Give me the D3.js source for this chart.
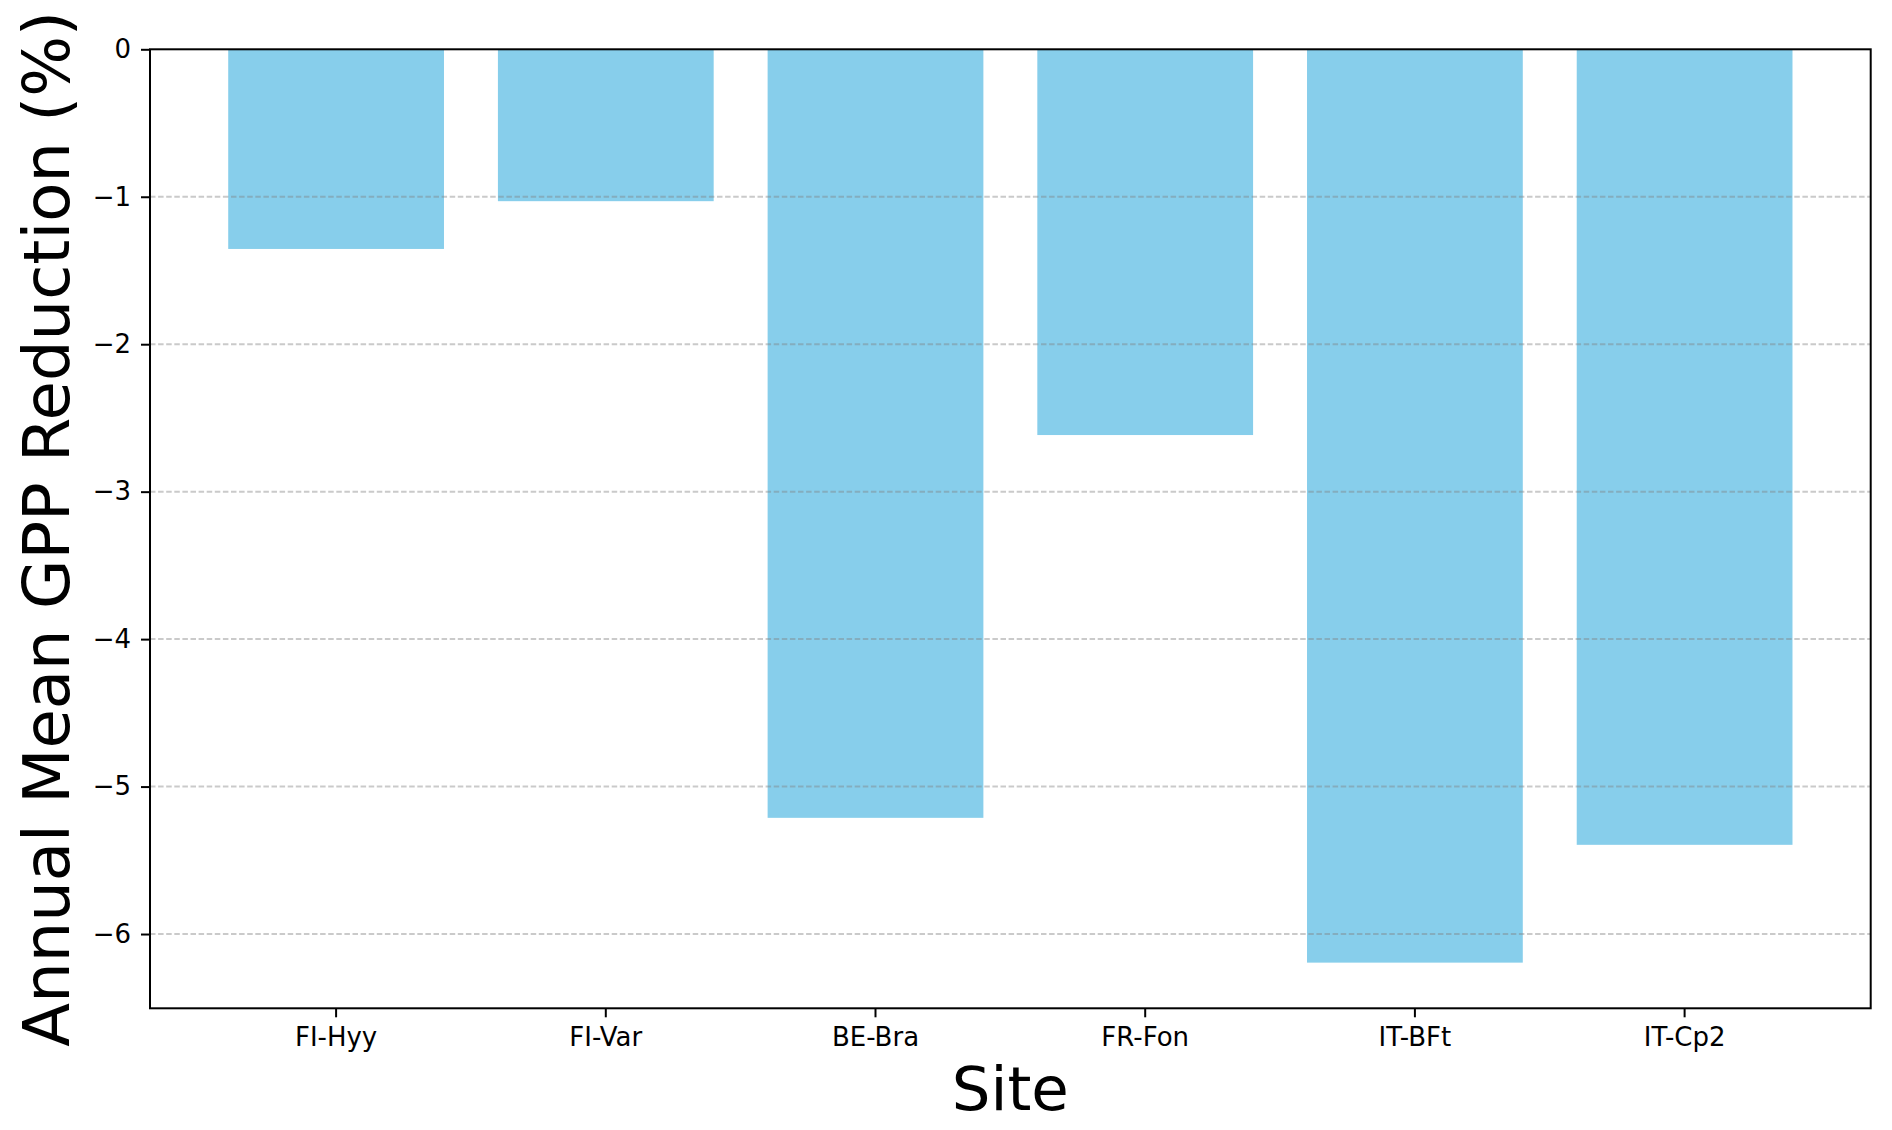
<!DOCTYPE html>
<html>
<head>
<meta charset="utf-8">
<script src="https://cdn.jsdelivr.net/npm/d3@7"></script>
<style>
  html, body { margin: 0; padding: 0; background: #fff; }
  svg { display: block; font-family: "DejaVu Sans", sans-serif; }
</style>
</head>
<body>
<svg id="chart" width="1892" height="1130"></svg>
<script>
const sites = ["FI-Hyy", "FI-Var", "BE-Bra", "FR-Fon", "IT-BFt", "IT-Cp2"];
const gppReduction = [-1.354, -1.03, -5.212, -2.616, -6.194, -5.395];
const yTicks = [0, -1, -2, -3, -4, -5, -6];
const xLabel = "Site";
const yLabel = "Annual Mean GPP Reduction (%)";

const W = 1892, H = 1130;
const plot = { left: 150, right: 1870.7, top: 49.3, bottom: 1008.3 };

const svg = d3.select("#chart");

const x = d3.scaleBand()
  .domain(sites)
  .range([plot.left, plot.right])
  .paddingInner(0.2)
  .paddingOuter(0.29);

const y = d3.scaleLinear()
  .domain([d3.min(gppReduction) * 1.05, 0])
  .range([plot.bottom, plot.top]);

// bars
svg.append("g")
  .selectAll("rect")
  .data(sites.map((s, i) => ({ site: s, v: gppReduction[i] })))
  .join("rect")
  .attr("x", d => x(d.site))
  .attr("width", x.bandwidth())
  .attr("y", y(0))
  .attr("height", d => y(d.v) - y(0))
  .attr("fill", "#87CEEB");

// grid (drawn above bars)
svg.append("g")
  .selectAll("line")
  .data(yTicks.filter(t => t !== 0))
  .join("line")
  .attr("x1", plot.left)
  .attr("x2", plot.right)
  .attr("y1", d => y(d))
  .attr("y2", d => y(d))
  .attr("stroke", "#808080")
  .attr("stroke-opacity", 0.42)
  .attr("stroke-width", 2)
  .attr("stroke-dasharray", "5.5,2.6");

// axes
const yAxis = d3.axisLeft(y).tickValues(yTicks).tickSize(9).tickPadding(10)
  .tickFormat(d3.format("d"));
const gy = svg.append("g").attr("transform", `translate(${plot.left},0)`).call(yAxis);
gy.select(".domain").remove();
gy.selectAll(".tick line").attr("stroke", "#000").attr("stroke-width", 2);
gy.selectAll(".tick text").attr("font-size", 26).attr("fill", "#000")
  .attr("font-family", "DejaVu Sans");

const xAxis = d3.axisBottom(x).tickSize(9).tickPadding(10);
const gx = svg.append("g").attr("transform", `translate(0,${plot.bottom})`).call(xAxis);
gx.select(".domain").remove();
gx.selectAll(".tick line").attr("stroke", "#000").attr("stroke-width", 2);
gx.selectAll(".tick text").attr("font-size", 26).attr("fill", "#000")
  .attr("font-family", "DejaVu Sans");

// frame
svg.append("rect")
  .attr("x", plot.left).attr("y", plot.top)
  .attr("width", plot.right - plot.left)
  .attr("height", plot.bottom - plot.top)
  .attr("fill", "none")
  .attr("stroke", "#000")
  .attr("stroke-width", 2);

// axis labels
svg.append("text")
  .attr("x", (plot.left + plot.right) / 2)
  .attr("y", 1110)
  .attr("text-anchor", "middle")
  .attr("font-size", 61)
  .attr("fill", "#000")
  .text(xLabel);

svg.append("text")
  .attr("transform", `translate(69,${(plot.top + plot.bottom) / 2}) rotate(-90)`)
  .attr("text-anchor", "middle")
  .attr("font-size", 64)
  .attr("fill", "#000")
  .text(yLabel);
</script>
</body>
</html>
